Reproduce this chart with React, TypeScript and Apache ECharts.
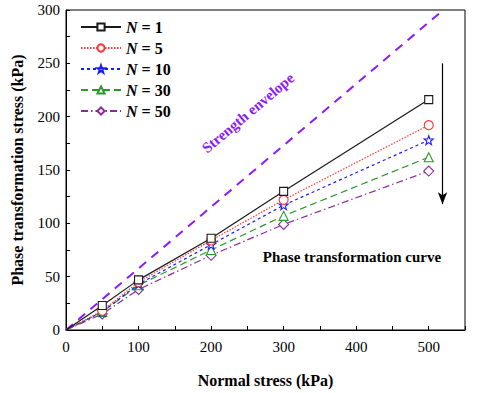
import React, { useEffect, useRef } from "react";
import * as echarts from "echarts";

const normalStress = [0, 50, 100, 200, 300, 500];
const seriesNames = ["N = 1", "N = 5", "N = 10", "N = 30", "N = 50"];
const n1 = [0, 23, 47, 86, 130, 216];
const n5 = [0, 18, 45, 84, 122, 192];
const n10 = [0, 17, 43, 80, 117, 178];
const n30 = [0, 17, 42, 75, 107, 162];
const n50 = [0, 15, 38, 70, 99, 149];
const envelopeX = [0, 520];
const envelopeY = [0, 300];
const arrowX = 519;
const arrowFrom = 250;
const arrowTo = 118;

const starPath =
  "path://M0,-10 L2.35,-3.24 L9.51,-3.09 L3.8,1.24 L5.88,8.09 L0,4 L-5.88,8.09 L-3.8,1.24 L-9.51,-3.09 L-2.35,-3.24 Z";

const styles = [
  { color: "#1a1a1a", type: "solid", symbol: "rect", size: 8 },
  { color: "#ff3333", type: [1.5, 1.5], symbol: "circle", size: 9 },
  { color: "#1a1aff", type: [3, 3], symbol: starPath, size: 9 },
  { color: "#2a9a2a", type: [7, 4], symbol: "triangle", size: 9 },
  { color: "#8a2a9a", type: [7, 3, 1.5, 3], symbol: "diamond", size: 10 },
];

export default function App() {
  const ref = useRef<HTMLDivElement>(null);
  useEffect(() => {
    if (!ref.current) return;
    const chart = echarts.init(ref.current, undefined, { renderer: "svg" });
    const datasets = [n1, n5, n10, n30, n50];
    const font = "Liberation Serif";
    const series: any[] = datasets.map((vals, i) => ({
      name: seriesNames[i],
      type: "line",
      data: normalStress.map((x, j) =>
        j === 0 ? { value: [x, vals[j]], symbol: "none" } : [x, vals[j]]
      ),
      symbol: styles[i].symbol,
      symbolSize: styles[i].size,
      showSymbol: true,
      lineStyle: { color: styles[i].color, width: 1.2, type: styles[i].type },
      itemStyle: { color: "#fff", borderColor: styles[i].color, borderWidth: 1.1 },
      z: 5 - i + 2,
    }));
    series.push({
      name: "envelope",
      type: "line",
      data: envelopeX.map((x, j) => [x, envelopeY[j]]),
      symbol: "none",
      lineStyle: { color: "#8c1aff", width: 2, type: [9, 7] },
      z: 1,
    });
    series.push({
      name: "arrow",
      type: "line",
      data: [],
      markLine: {
        silent: true,
        symbol: ["none", "arrow"],
        symbolSize: [7, 12],
        label: { show: false },
        lineStyle: { color: "#000", width: 1.2, type: "solid" },
        data: [[{ coord: [arrowX, arrowFrom] }, { coord: [arrowX, arrowTo] }]],
      },
    });
    chart.setOption({
      animation: false,
      backgroundColor: "#fff",
      textStyle: { fontFamily: font },
      grid: {
        left: 66,
        right: 19,
        top: 10,
        bottom: 63,
        show: true,
        borderColor: "#000",
        borderWidth: 1,
      },
      legend: {
        data: seriesNames,
        orient: "vertical",
        left: 75,
        top: 14,
        itemWidth: 40,
        itemHeight: 9,
        itemGap: 5,
        textStyle: {
          fontFamily: font,
          fontWeight: "bold",
          fontSize: 16,
          color: "#000",
          rich: {
            i: { fontFamily: font, fontStyle: "italic", fontWeight: "bold", fontSize: 16 },
            b: { fontFamily: font, fontWeight: "bold", fontSize: 16 },
          },
        },
        formatter: (name: string) => `{i|N}{b|${name.slice(1)}}`,
      },
      xAxis: {
        type: "value",
        min: 0,
        max: 550,
        interval: 50,
        name: "Normal stress (kPa)",
        nameLocation: "middle",
        nameGap: 42,
        nameTextStyle: { fontFamily: font, fontWeight: "bold", fontSize: 16, color: "#000" },
        axisLine: { lineStyle: { color: "#000", width: 1 } },
        axisTick: { inside: true, length: 4, lineStyle: { color: "#000" } },
        axisLabel: {
          fontFamily: font,
          fontSize: 15,
          color: "#000",
          margin: 9,
          formatter: (v: number) => (v % 100 === 0 && v <= 500 ? String(v) : ""),
        },
        splitLine: { show: false },
      },
      yAxis: {
        type: "value",
        min: 0,
        max: 300,
        interval: 25,
        name: "Phase transformation stress (kPa)",
        nameLocation: "middle",
        nameGap: 41,
        nameTextStyle: { fontFamily: font, fontWeight: "bold", fontSize: 16, color: "#000" },
        axisLine: { show: true, lineStyle: { color: "#000", width: 1 } },
        axisTick: { show: true, inside: true, length: 4, lineStyle: { color: "#000" } },
        axisLabel: {
          fontFamily: font,
          fontSize: 15,
          color: "#000",
          margin: 6,
          formatter: (v: number) => (v % 50 === 0 ? String(v) : ""),
        },
        splitLine: { show: false },
      },
      graphic: [
        {
          type: "text",
          x: 248,
          y: 113,
          rotation: (40 * Math.PI) / 180,
          style: {
            text: "Strength envelope",
            fontFamily: font,
            fontWeight: "bold",
            fontSize: 15,
            fill: "#8c1aff",
            align: "center",
            verticalAlign: "middle",
          },
        },
        {
          type: "text",
          x: 352,
          y: 257,
          style: {
            text: "Phase transformation curve",
            fontFamily: font,
            fontWeight: "bold",
            fontSize: 15,
            fill: "#000",
            align: "center",
            verticalAlign: "middle",
          },
        },
      ],
      series,
    });
    return () => chart.dispose();
  }, []);
  return (
    <div
      ref={ref}
      style={{ position: "fixed", left: 0, top: 0, width: 484, height: 393 }}
    />
  );
}
